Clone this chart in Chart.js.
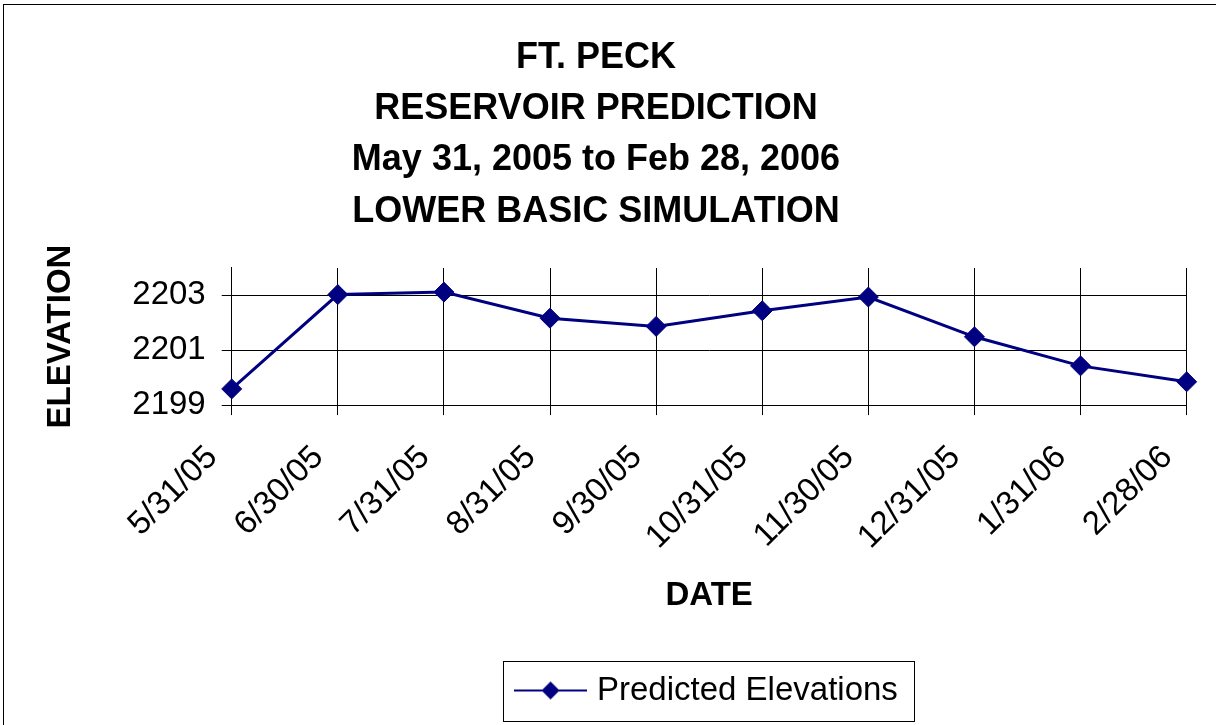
<!DOCTYPE html>
<html>
<head>
<meta charset="utf-8">
<script src="https://cdn.jsdelivr.net/npm/chart.js@4"></script>
<style>
  html, body { margin: 0; padding: 0; background: #fff; overflow: hidden; }
  #wrap { position: relative; width: 1216px; height: 725px; }
  #frame { position: absolute; left: 3px; top: 4px; width: 1230px; height: 740px; border: 1px solid #000; pointer-events: none; }
</style>
</head>
<body>
<div id="wrap">
  <canvas id="chart" width="1216" height="725"></canvas>
  <div id="frame"></div>
</div>
<script>
const dates = ['5/31/05', '6/30/05', '7/31/05', '8/31/05', '9/30/05', '10/31/05', '11/30/05', '12/31/05', '1/31/06', '2/28/06'];
const predictedElevations = [2199.59, 2203.03, 2203.12, 2202.17, 2201.87, 2202.44, 2202.94, 2201.49, 2200.43, 2199.85];
const yTicks = [2199, 2201, 2203];
const titleLines = ['FT. PECK', 'RESERVOIR PREDICTION', 'May 31, 2005 to Feb 28, 2006', 'LOWER BASIC SIMULATION'];

const FONT = "'Liberation Sans', Arial, sans-serif";
const NAVY = '#000080';

// little line + diamond picture for the legend
function legendMarker() {
  let c = document.createElement('canvas');
  c.width = 73;
  c.height = 22;
  let g = c.getContext('2d');
  g.strokeStyle = NAVY;
  g.lineWidth = 2;
  g.beginPath();
  g.moveTo(0, 11);
  g.lineTo(73, 11);
  g.stroke();
  g.fillStyle = NAVY;
  g.beginPath();
  g.moveTo(36.5, 2);
  g.lineTo(45.5, 11);
  g.lineTo(36.5, 20);
  g.lineTo(27.5, 11);
  g.closePath();
  g.fill();
  return c;
}

const legendFrame = {
  id: 'legendFrame',
  afterDraw(chart) {
    let hb = chart.legend.legendHitBoxes[0];
    if (!hb) return;
    let ctx = chart.ctx;
    ctx.save();
    ctx.strokeStyle = '#000';
    ctx.lineWidth = 1;
    ctx.strokeRect(Math.round(hb.left - 17.5) + 0.5, Math.round(hb.top - 13.5) + 0.5, Math.round(hb.width + 33.5), 60);
    ctx.restore();
  }
};

let chart_setup = {
  type: 'line',
  data: {
    labels: dates,
    datasets: [{
      label: 'Predicted Elevations',
      data: predictedElevations,
      borderColor: NAVY,
      backgroundColor: NAVY,
      borderWidth: 3,
      tension: 0,
      pointStyle: 'rectRot',
      pointRadius: 10,
      pointHoverRadius: 10,
      pointBackgroundColor: NAVY,
      pointBorderColor: NAVY,
      pointBorderWidth: 1,
    }]
  },
  options: {
    responsive: false,
    animation: false,
    devicePixelRatio: 1,
    layout: {
      padding: { top: 0, left: 5, right: 29, bottom: 8 }
    },
    plugins: {
      title: {
        display: true,
        text: titleLines,
        color: '#000',
        font: { family: FONT, size: 36, weight: 'bold', lineHeight: 1.42 },
        padding: { top: 32.7, bottom: 30.8 }
      },
      legend: {
        position: 'bottom',
        fullSize: false,
        labels: {
          usePointStyle: true,
          pointStyle: legendMarker(),
          pointStyleWidth: 60,
          color: '#000',
          padding: 10,
          font: { family: FONT, size: 33 }
        }
      },
      tooltip: { enabled: false }
    },
    scales: {
      x: {
        offset: false,
        grid: { color: '#000', lineWidth: 1, tickLength: 10, offset: false },
        border: { color: '#000' },
        ticks: {
          color: '#000',
          maxRotation: 45,
          minRotation: 45,
          autoSkip: false,
          padding: 6,
          // trailing blanks push the slanted labels down-left of the tick like in Excel
          callback: function(value) { return this.getLabelForValue(value) + '   '; },
          font: { family: FONT, size: 33, lineHeight: 1.0 }
        },
        title: {
          display: true,
          text: 'DATE',
          color: '#000',
          font: { family: FONT, size: 33, weight: 'bold' },
          padding: { top: 15, bottom: 48.7 }
        }
      },
      y: {
        min: 2199,
        max: 2204,
        afterBuildTicks: (scale) => {
          scale.ticks = yTicks.map(v => ({ value: v }));
        },
        grid: { color: '#000', lineWidth: 1, tickLength: 10 },
        border: { color: '#000' },
        ticks: {
          color: '#000',
          padding: 16,
          callback: (value) => String(value),
          font: { family: FONT, size: 33 }
        },
        title: {
          display: true,
          text: 'ELEVATION',
          color: '#000',
          font: { family: FONT, size: 33, weight: 'bold' },
          padding: { top: 36, bottom: 35.7 }
        }
      }
    }
  },
  plugins: [legendFrame]
};

const ctx = document.getElementById('chart');
new Chart(ctx, chart_setup);
</script>
</body>
</html>
